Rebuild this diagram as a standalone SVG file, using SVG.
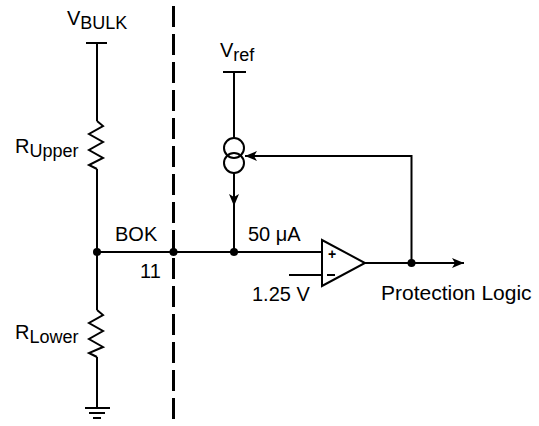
<svg xmlns="http://www.w3.org/2000/svg" width="539" height="426" viewBox="0 0 539 426">
<defs>
<style>
.w{fill:none;stroke:#000;stroke-width:2;stroke-linecap:butt;stroke-linejoin:miter}
.t{font-family:"Liberation Sans",Arial,sans-serif;fill:#000}
.dot{fill:#000}
</style>
<marker id="ah" viewBox="0 0 12 10" refX="12" refY="5" markerWidth="12" markerHeight="10" markerUnits="userSpaceOnUse" orient="auto">
<path d="M0,0 L12,5 L0,10 L3,5 Z" fill="#000"/>
</marker>
</defs>
<rect width="539" height="426" fill="#fff"/>

<g id="connectors">
<line class="w" x1="97" y1="43" x2="97" y2="121"/>
<line class="w" x1="97" y1="169" x2="97" y2="310"/>
<line class="w" x1="97" y1="357" x2="97" y2="408"/>
<line class="w" x1="97" y1="252" x2="322" y2="252"/>
<line class="w" x1="234" y1="72" x2="234" y2="138"/>
<line class="w" x1="234" y1="173" x2="234" y2="206" marker-end="url(#ah)"/>
<line class="w" x1="234" y1="204" x2="234" y2="252"/>
<polyline class="w" points="411.5,263 411.5,156 245,156" marker-end="url(#ah)"/>
<line class="w" x1="365" y1="263" x2="464" y2="263" marker-end="url(#ah)"/>
<line class="w" x1="289" y1="275" x2="322" y2="275"/>
</g>

<g id="divider">
<line x1="173.5" y1="6" x2="173.5" y2="420" stroke="#000" stroke-width="3" stroke-dasharray="21 7"/>
</g>

<g id="vbulk">
<line class="w" x1="86" y1="43" x2="107" y2="43"/>
<text class="t" x="67" y="25" font-size="20">V<tspan font-size="18" dy="4">BULK</tspan></text>
</g>

<g id="r-upper">
<polyline class="w" points="97,121 103,126 89,134 103,142 89,150 103,158 89,165 97,169"/>
<text class="t" x="15" y="153" font-size="20">R<tspan font-size="18" dy="4">Upper</tspan></text>
</g>

<g id="r-lower">
<polyline class="w" points="97,310 103,315 89,323 103,331 89,339 103,347 89,353 97,357"/>
<text class="t" x="15" y="339" font-size="20">R<tspan font-size="18" dy="4">Lower</tspan></text>
</g>

<g id="ground">
<line class="w" x1="85" y1="408" x2="110" y2="408"/>
<line class="w" x1="89" y1="413" x2="105" y2="413"/>
<line class="w" x1="93" y1="418" x2="101" y2="418"/>
</g>

<g id="vref">
<line class="w" x1="223" y1="72" x2="246" y2="72"/>
<text class="t" x="220" y="57" font-size="20">V<tspan font-size="18" dy="4">ref</tspan></text>
</g>

<g id="current-source">
<circle class="w" cx="234" cy="148" r="10"/>
<circle class="w" cx="234" cy="163" r="10"/>
</g>

<g id="junction-left"><circle class="dot" cx="97" cy="252" r="4"/></g>
<g id="junction-pin"><circle class="dot" cx="173.5" cy="252" r="4"/></g>
<g id="junction-mid"><circle class="dot" cx="234" cy="252" r="4"/></g>
<g id="junction-out"><circle class="dot" cx="411.5" cy="263" r="4"/></g>

<g id="bok">
<text class="t" x="115" y="241" font-size="20">BOK</text>
<text class="t" x="140" y="278" font-size="20">11</text>
</g>

<g id="comparator">
<polygon class="w" points="322,240 322,286 365,263"/>
<text class="t" x="328" y="259" font-size="14" font-weight="bold">+</text>
<line x1="327" y1="275" x2="335" y2="275" stroke="#000" stroke-width="2"/>
</g>

<text class="t" x="248" y="241" font-size="20">50 μA</text>
<text class="t" x="252" y="301" font-size="20">1.25 V</text>
<text class="t" x="381" y="300" font-size="21">Protection Logic</text>
</svg>
